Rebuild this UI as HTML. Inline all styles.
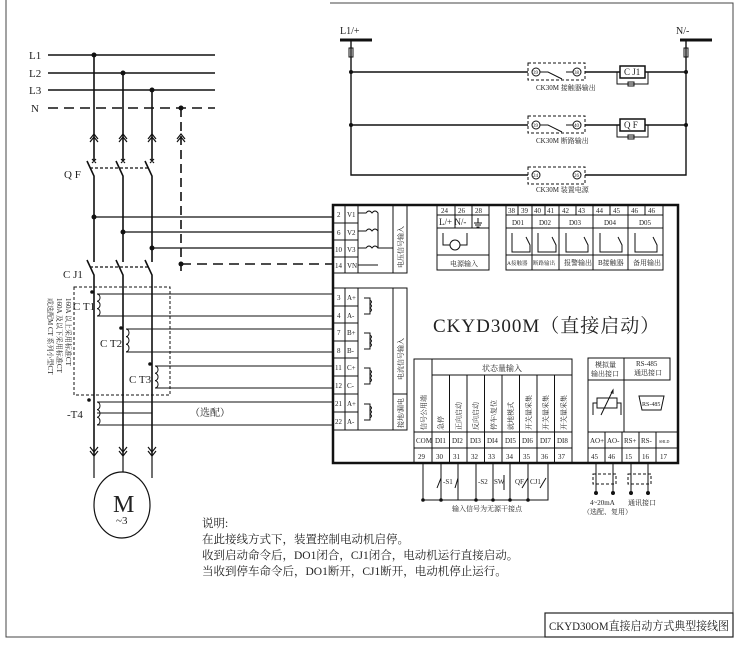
<!DOCTYPE html>
<html><head><meta charset="utf-8"><style>
html,body{margin:0;padding:0;background:#fff}
svg{display:block}
text{font-family:"Liberation Serif","Noto Serif CJK SC",serif;fill:#222}
.s{font-size:7px}
</style></head><body>
<svg width="736" height="645" viewBox="0 0 736 645" xmlns="http://www.w3.org/2000/svg">
<g fill="none" stroke="#222" stroke-width="1">
<path d="M6 0 V637 H733 V3 H330" stroke="#444"/>
<rect x="545" y="613" width="188" height="24" stroke-width="1.2"/>
</g>
<text x="549" y="630" style="font-size:12px" textLength="180" lengthAdjust="spacingAndGlyphs">CKYD30OM直接启动方式典型接线图</text>

<g stroke="#111" stroke-width="1.6" fill="none">
<line x1="48" y1="55" x2="215" y2="55"/>
<line x1="48" y1="73" x2="215" y2="73"/>
<line x1="48" y1="90" x2="215" y2="90"/>
<line x1="48" y1="108" x2="215" y2="108" stroke-dasharray="10,6"/>
<line x1="94" y1="55" x2="94" y2="160"/>
<line x1="123" y1="73" x2="123" y2="160"/>
<line x1="152" y1="90" x2="152" y2="160"/>
<line x1="181" y1="108" x2="181" y2="273" stroke-dasharray="9,5"/>
<line x1="181" y1="264" x2="333" y2="264" stroke-dasharray="10,6"/>
<path d="M87 161 L94 176 V262 M116 161 L123 176 V262 M145 161 L152 176 V262"/>
<path d="M87 260 L94 275 V455 M116 260 L123 275 V455 M145 260 L152 275 V455"/>
</g>
<g stroke="#111" stroke-width="1.2" fill="none">
<path d="M90 168 H148 M90 267 H148" stroke-dasharray="3,2"/>
<path d="M90 139 L94 134 L98 139 M90 142 L94 137 L98 142 M119 139 L123 134 L127 139 M119 142 L123 137 L127 142 M148 139 L152 134 L156 139 M148 142 L152 137 L156 142 M177 139 L181 134 L185 139 M177 142 L181 137 L185 142"/>
<path d="M92 159 L96 163 M96 159 L92 163 M121 159 L125 163 M125 159 L121 163 M150 159 L154 163 M154 159 L150 163"/>
<path d="M90 447 L94 452 L98 447 M90 451 L94 456 L98 451 M119 447 L123 452 L127 447 M119 451 L123 456 L127 451 M148 447 L152 452 L156 447 M148 451 L152 456 L156 451"/>
<path d="M94 456 V478 M123 456 V472 M152 456 V478"/>
<ellipse cx="122" cy="505" rx="28" ry="33"/>
<path d="M94 217 H333 M123 232 H333 M152 248 H333"/>
<rect x="74" y="287" width="96" height="108" stroke-dasharray="3,2" stroke-width="1"/>
<path d="M97 294 H333 M97 316 H333 M97 294 a3 3.6 0 0 1 0 7.3 a3 3.6 0 0 1 0 7.3 a3 3.6 0 0 1 0 7.4" stroke-width="1"/>
<path d="M126 329 H333 M126 352 H333 M126 329 a3 3.8 0 0 1 0 7.6 a3 3.8 0 0 1 0 7.6 a3 3.8 0 0 1 0 7.6" stroke-width="1"/>
<path d="M155 366 H333 M155 388 H333 M155 366 a3 3.6 0 0 1 0 7.3 a3 3.6 0 0 1 0 7.3 a3 3.6 0 0 1 0 7.4" stroke-width="1"/>
<path d="M97 402 H333 M97 413 H152 M97 425 H333 M97 402 a3 3.8 0 0 1 0 7.6 a3 3.8 0 0 1 0 7.6 a3 3.8 0 0 1 0 7.6" stroke-width="1"/>
</g>
<g fill="#111">
<circle cx="94" cy="55" r="2.5"/><circle cx="123" cy="73" r="2.5"/><circle cx="152" cy="90" r="2.5"/><circle cx="181" cy="108" r="2.5"/>
<circle cx="94" cy="217" r="2.5"/><circle cx="123" cy="232" r="2.5"/><circle cx="152" cy="248" r="2.5"/><circle cx="181" cy="264" r="2.5"/>
<circle cx="92" cy="292" r="1.8"/><circle cx="121" cy="328" r="1.8"/><circle cx="150" cy="364" r="1.8"/><circle cx="89" cy="400" r="1.8"/>
</g>
<g style="font-size:11px">
<text x="29" y="59">L1</text><text x="29" y="77">L2</text><text x="29" y="94">L3</text><text x="31" y="112">N</text>
<text x="64" y="178">Q F</text><text x="63" y="278">C J1</text>
<text x="73" y="310">C T1</text><text x="100" y="347">C T2</text><text x="129" y="383">C T3</text>
<text x="67" y="418">-T4</text><text x="190" y="416" style="font-size:10px">（选配）</text>
<text x="113" y="512" style="font-size:24px">M</text><text x="116" y="524" style="font-size:11px">~3</text>
</g>
<g class="s" transform="rotate(90)">
<text x="298" y="-66">160A 以上采用标准CT</text>
<text x="298" y="-57">160A 及以下采用标准CT</text>
<text x="298" y="-48">或选配M CT 系列小型CT</text>
</g>

<g stroke="#111" fill="none">
<path d="M340 40 H372 M680 40 H712" stroke-width="3"/>
<path d="M351 40 V175 H528 M686 40 V175 H585" stroke-width="1.4"/>
<rect x="349" y="48" width="4" height="9" stroke-width="1"/>
<rect x="684" y="48" width="4" height="9" stroke-width="1"/>
<path d="M351 72 H528 M585 72 H620 M645 72 H686 M351 125 H528 M585 125 H620 M645 125 H686" stroke-width="1.4"/>
<g stroke-width="1" stroke-dasharray="3,2">
<rect x="528" y="63" width="57" height="17"/><rect x="528" y="116" width="57" height="17"/><rect x="528" y="167" width="57" height="17"/>
</g>
<g stroke-width="1">
<circle cx="536" cy="72" r="4"/><circle cx="577" cy="72" r="4"/><circle cx="536" cy="125" r="4"/><circle cx="577" cy="125" r="4"/><circle cx="536" cy="175" r="4"/><circle cx="577" cy="175" r="4"/>
<path d="M540 72 H548 L562 79 M566 72 H573 M540 125 H548 L562 132 M566 125 H573"/>
<rect x="620" y="66" width="25" height="12" stroke-width="1.5"/>
<rect x="620" y="119" width="25" height="12" stroke-width="1.5"/>
<path d="M617 72 V84 H648 V72 M617 125 V137 H648 V125"/>
<rect x="628" y="82" width="6" height="4"/><rect x="628" y="135" width="6" height="4"/>
</g>
</g>
<g fill="#111"><circle cx="351" cy="72" r="2"/><circle cx="351" cy="125" r="2"/><circle cx="686" cy="72" r="2"/><circle cx="686" cy="125" r="2"/></g>
<text x="340" y="34" style="font-size:10px">L1/+</text><text x="676" y="34" style="font-size:10px">N/-</text>
<g style="font-size:5px"><text x="533" y="74">39</text><text x="574" y="74">38</text><text x="533" y="127">39</text><text x="574" y="127">40</text><text x="533" y="177">24</text><text x="574" y="177">26</text></g>
<text x="624" y="75" style="font-size:9px">C J1</text><text x="624" y="128" style="font-size:9px">Q F</text>
<g class="s"><text x="536" y="90">CK30M 接触器输出</text><text x="536" y="143">CK30M 断路输出</text><text x="536" y="192">CK30M 装置电源</text></g>

<g stroke="#111" fill="none" stroke-width="1">
<rect x="333" y="205" width="345" height="258" stroke-width="2.5"/>
<path d="M333 223 H358 M333 240 H358 M333 257 H358 M333 273 H407 V205 M345 205 V273 M358 205 V273 M393 205 V273"/>
<path d="M358 213 H366 q3 -4 6 0 q3 -4 6 0 H378 V248 H393 M358 231 H366 q3 -4 6 0 q3 -4 6 0 M358 248 H366 q3 -4 6 0 q3 -4 6 0 M358 265 H378"/>
<path d="M333 288 H407 V430 H333 M345 288 V430 M358 288 V430 M393 288 V430 M393 394 H407"/>
<path d="M333 306 H358 M333 323 H358 M333 341 H358 M333 358 H358 M333 376 H358 M333 394 H358 M333 412 H358"/>
<path d="M364 298 H370 V314 H364 M370 300 q3 2 0 4 q3 2 0 4 q3 2 0 4 M364 333 H370 V349 H364 M370 335 q3 2 0 4 q3 2 0 4 q3 2 0 4 M364 368 H370 V384 H364 M370 370 q3 2 0 4 q3 2 0 4 q3 2 0 4 M364 404 H370 V420 H364 M370 406 q3 2 0 4 q3 2 0 4 q3 2 0 4"/>
<path d="M437 205 V270 H489 V205 M437 215 H489 M437 228 H489 M437 255 H489 M455 205 V228 M472 205 V228"/>
<path d="M443 233 V245 H450 M460 245 H467 V233"/><circle cx="455" cy="245" r="5"/>
<path d="M478 218 V223 M474 223 H482 M475 225 H481 M476.5 227 H479.5"/>
<path d="M506 205 V270 H663 V205 M506 215 H663 M506 228 H663 M506 255 H663"/>
<path d="M518 205 V215 M532 205 V270 M545 205 V215 M559 205 V270 M576 205 V215 M593 205 V270 M610 205 V215 M628 205 V270 M645 205 V215"/>
<path d="M512 233 V252 H530 V245 L526 237 M538 233 V252 H556 V245 L552 237 M566 233 V252 H588 V245 L584 237 M600 233 V252 H622 V245 L618 237 M635 233 V252 H657 V245 L653 237"/>
<path d="M414 463 V359 H572 V463 M432 359 V463 M432 375 H572 M414 432 H572 M414 448 H572"/>
<path d="M449.5 375 V463 M467 375 V463 M484.5 375 V463 M502 375 V463 M519.5 375 V463 M537 375 V463 M554.5 375 V463"/>
<path d="M588 463 V358 H670 V380 H588 M624 358 V432 M588 432 H678 M588 448 H678 M605 432 V463 M622 432 V463 M639 432 V463 M656 432 V463"/>
<rect x="597" y="398" width="20" height="10"/><path d="M601 415 L613 390 M611 393 L613 390 L613 394 M597 403 H593 V415 M617 403 H621 V415"/>
<path d="M639 396 H664 L661 410 H642 Z"/>
<path d="M423 463 V500 H548 V463 M441 463 V500 M458 463 V500 M476 463 V500 M493 463 V500 M510 463 V500 M528 463 V500" stroke-width="1"/>
<path d="M437 488 L441 478 M455 488 L458 478 M522 488 L528 478 M540 488 L546 478 M504 475 V490"/>
<path d="M596 463 V495 M613 463 V495 M631 463 V495 M648 463 V495"/>
<rect x="593" y="474" width="23" height="10" stroke-dasharray="3,2"/><rect x="628" y="474" width="23" height="10" stroke-dasharray="3,2"/>
</g>
<g fill="#111"><circle cx="423" cy="500" r="1.8"/><circle cx="441" cy="500" r="1.8"/><circle cx="476" cy="500" r="1.8"/><circle cx="493" cy="500" r="1.8"/><circle cx="510" cy="500" r="1.8"/><circle cx="528" cy="500" r="1.8"/>
<circle cx="596" cy="493" r="2"/><circle cx="613" cy="493" r="2"/><circle cx="631" cy="493" r="2"/><circle cx="648" cy="493" r="2"/></g>
<g class="s">
<text x="337" y="217">2</text><text x="337" y="235">6</text><text x="335" y="252">10</text><text x="335" y="268">14</text>
<text x="347" y="217">V1</text><text x="347" y="235">V2</text><text x="347" y="252">V3</text><text x="347" y="268">VN</text>
<text x="337" y="300">3</text><text x="337" y="318">4</text><text x="337" y="335">7</text><text x="337" y="353">8</text><text x="335" y="370">11</text><text x="335" y="388">12</text><text x="335" y="406">21</text><text x="335" y="424">22</text>
<text x="347" y="300">A+</text><text x="347" y="318">A-</text><text x="347" y="335">B+</text><text x="347" y="353">B-</text><text x="347" y="370">C+</text><text x="347" y="388">C-</text><text x="347" y="406">A+</text><text x="347" y="424">A-</text>
<text x="441" y="213">24</text><text x="458" y="213">26</text><text x="475" y="213">28</text>
<text x="508" y="213">38</text><text x="521" y="213">39</text><text x="534" y="213">40</text><text x="547" y="213">41</text><text x="562" y="213">42</text><text x="578" y="213">43</text><text x="596" y="213">44</text><text x="613" y="213">45</text><text x="631" y="213">46</text><text x="648" y="213">46</text>
<text x="512" y="225">D01</text><text x="539" y="225">D02</text><text x="569" y="225">D03</text><text x="604" y="225">D04</text><text x="639" y="225">D05</text>
<text x="507" y="265" style="font-size:5.5px">A接触器</text><text x="533" y="265" style="font-size:5.5px">断路输出</text><text x="564" y="265">报警输出</text><text x="598" y="265">B接触器</text><text x="633" y="265">备用输出</text>
<text x="450" y="266">电源输入</text>
<text x="416" y="443">COM</text><text x="435" y="443">DI1</text><text x="452" y="443">DI2</text><text x="470" y="443">DI3</text><text x="487" y="443">DI4</text><text x="505" y="443">DI5</text><text x="522" y="443">DI6</text><text x="540" y="443">DI7</text><text x="557" y="443">DI8</text>
<text x="418" y="459">29</text><text x="436" y="459">30</text><text x="453" y="459">31</text><text x="471" y="459">32</text><text x="488" y="459">33</text><text x="506" y="459">34</text><text x="523" y="459">35</text><text x="541" y="459">36</text><text x="558" y="459">37</text>
<text x="590" y="443">AO+</text><text x="607" y="443">AO-</text><text x="624" y="443">RS+</text><text x="641" y="443">RS-</text><text x="659" y="443" style="font-size:4px">SHLD</text>
<text x="591" y="459">45</text><text x="608" y="459">46</text><text x="625" y="459">15</text><text x="642" y="459">16</text><text x="660" y="459">17</text>
<text x="595" y="367">模拟量</text><text x="591" y="376">输出接口</text><text x="636" y="366">RS-485</text><text x="634" y="375">通迅接口</text>
<text x="642" y="406" style="font-size:6px">RS-485</text>
<text x="443" y="484">-S1</text><text x="478" y="484">-S2</text><text x="494" y="484">SW</text><text x="515" y="484">QF</text><text x="530" y="484">CJ1</text>
<text x="590" y="505">4~20mA</text><text x="628" y="505">通讯接口</text><text x="583" y="514">（选配、复用）</text>
<text x="452" y="511">输入信号为无源干接点</text>
</g>
<text x="482" y="371" style="font-size:8px">状态量输入</text>
<g class="s" transform="rotate(-90)">
<text x="-268" y="403">电压信号输入</text>
<text x="-380" y="403">电流信号输入</text>
<text x="-428" y="403">接地/漏电</text>
<text x="-430" y="426">信号公用端</text>
<text x="-430" y="443">急停</text><text x="-430" y="461">正向启动</text><text x="-430" y="478">反向启动</text><text x="-430" y="496">停车\复位</text><text x="-430" y="513">就地模式</text><text x="-430" y="531">开关量采集</text><text x="-430" y="548">开关量采集</text><text x="-430" y="566">开关量采集</text>
</g>
<text x="439" y="225" style="font-size:9px">L/+ N/-</text>
<text x="433" y="332" style="font-size:19px;letter-spacing:1px">CKYD300M（直接启动）</text>

<g style="font-size:11.5px">
<text x="202" y="527">说明:</text>
<text x="202" y="543">在此接线方式下，装置控制电动机启停。</text>
<text x="202" y="559">收到启动命令后，DO1闭合，CJ1闭合，电动机运行直接启动。</text>
<text x="202" y="575">当收到停车命令后，DO1断开，CJ1断开，电动机停止运行。</text>
</g>
</svg>
</body></html>
